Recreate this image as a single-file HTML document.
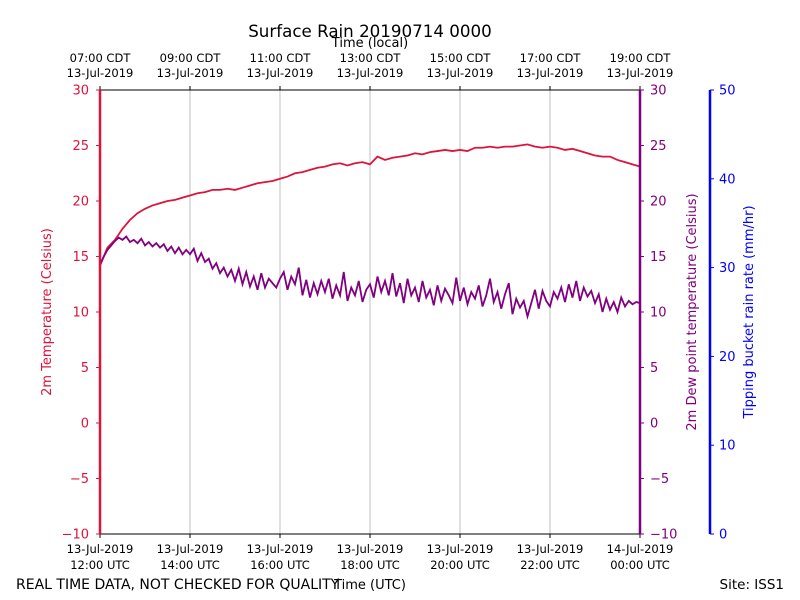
<!DOCTYPE html>
<html><head><meta charset="utf-8"><style>
body{margin:0;background:#fff;}
svg{display:block;font-family:"DejaVu Sans","Liberation Sans",sans-serif;}
</style></head><body>
<svg id="chart" width="800" height="600">
<text x="370" y="37" font-size="16.7" text-anchor="middle">Surface Rain 20190714 0000</text>
<text x="370" y="47" font-size="13" text-anchor="middle">Time (local)</text>
<text x="370" y="589" font-size="13" text-anchor="middle">Time (UTC)</text>
<text x="16" y="589" font-size="14">REAL TIME DATA, NOT CHECKED FOR QUALITY</text>
<text x="784" y="589" font-size="13.5" text-anchor="end">Site: ISS1</text>
<text transform="translate(51,312) rotate(-90)" font-size="13" fill="#dc143c" text-anchor="middle">2m Temperature (Celsius)</text>
<text transform="translate(696,312) rotate(-90)" font-size="13" fill="#800080" text-anchor="middle">2m Dew point temperature (Celsius)</text>
<text transform="translate(753,312) rotate(-90)" font-size="13" fill="#0000ff" text-anchor="middle">Tipping bucket rain rate (mm/hr)</text>
<g id="grid"></g><g id="series"></g><g id="axes"></g>
</svg>
<script>
const xTickHoursUTC=[12,14,16,18,20,22,24];
const xTickUTCLabels=["13-Jul-2019|12:00 UTC","13-Jul-2019|14:00 UTC","13-Jul-2019|16:00 UTC","13-Jul-2019|18:00 UTC","13-Jul-2019|20:00 UTC","13-Jul-2019|22:00 UTC","14-Jul-2019|00:00 UTC"];
const xTickLocalLabels=["07:00 CDT|13-Jul-2019","09:00 CDT|13-Jul-2019","11:00 CDT|13-Jul-2019","13:00 CDT|13-Jul-2019","15:00 CDT|13-Jul-2019","17:00 CDT|13-Jul-2019","19:00 CDT|13-Jul-2019"];
const tempTicks=[-10,-5,0,5,10,15,20,25,30];
const rainTicks=[0,10,20,30,40,50];
const tempStepMin=10;
const temperature=[14.2,15.8,16.5,17.5,18.3,18.9,19.3,19.6,19.8,20.0,20.1,20.3,20.5,20.7,20.8,21.0,21.0,21.1,21.0,21.2,21.4,21.6,21.7,21.8,22.0,22.2,22.5,22.6,22.8,23.0,23.1,23.3,23.4,23.2,23.4,23.5,23.3,24.0,23.7,23.9,24.0,24.1,24.3,24.2,24.4,24.5,24.6,24.5,24.6,24.5,24.8,24.8,24.9,24.8,24.9,24.9,25.0,25.1,24.9,24.8,24.9,24.8,24.6,24.7,24.5,24.3,24.1,24.0,24.0,23.7,23.5,23.3,23.1];
const dewStepMin=5;
const dewpoint=[14.2,15.0,15.6,16.0,16.4,16.7,16.5,16.8,16.3,16.5,16.2,16.6,
16.0,16.3,15.9,16.2,15.8,16.1,15.5,15.9,15.3,15.8,15.2,15.6,
15.2,15.7,14.6,15.3,14.5,14.8,13.9,14.4,13.5,14.0,13.2,13.8,
12.8,13.9,12.5,13.6,12.3,13.2,12.0,13.5,12.2,13.0,12.6,12.2,
13.0,13.6,12.0,13.2,12.5,14.0,11.5,12.9,11.3,12.6,11.6,12.8,
11.8,13.0,11.2,12.4,11.5,13.6,11.0,12.2,11.5,12.8,10.9,12.0,
12.5,11.3,13.2,11.8,12.8,11.5,13.5,11.4,12.6,10.8,13.0,11.5,
12.2,10.9,12.8,11.3,12.0,10.6,12.4,11.0,12.1,11.5,10.8,13.1,
11.0,12.2,10.7,11.8,11.2,12.4,10.5,11.5,13.0,10.9,11.8,10.3,
11.6,12.6,9.8,11.2,10.4,11.0,9.6,10.8,12.0,10.3,11.9,11.0,
10.5,11.8,11.2,12.2,10.9,12.5,11.3,12.8,11.0,12.2,11.4,11.9,
10.8,11.6,10.0,11.2,10.2,10.9,10.0,11.3,10.5,11.0,10.7,10.9,10.8];

const X0=100,X1=640,Y0=90,Y1=534;
const xH=h=>X0+(h-12)/12*(X1-X0);
const yT=v=>Y1-(v+10)/40*(Y1-Y0);
const yR=v=>Y1-v/50*(Y1-Y0);
const NS="http://www.w3.org/2000/svg";
function mk(tag,attrs,parent,txt){const e=document.createElementNS(NS,tag);for(const k in attrs)e.setAttribute(k,attrs[k]);if(txt!=null)e.textContent=txt;document.getElementById(parent).appendChild(e);return e;}

xTickHoursUTC.forEach((h,i)=>{
  const x=xH(h);
  if(i>0&&i<xTickHoursUTC.length-1){const g=mk('line',{x1:x,x2:x,y1:Y0,y2:Y1,stroke:'#b0b0b0','stroke-width':0.8},'grid');
  
  }
  const t=mk('line',{x1:x,x2:x,y1:Y1,y2:Y1+4,stroke:'#000'},'axes');
  
  
  const t2=mk('line',{x1:x,x2:x,y1:Y0,y2:Y0-4,stroke:'#000'},'axes');
  
  
  const [a,b]=xTickUTCLabels[i].split('|');
  const l1=mk('text',{x:x,y:553,'font-size':11.5,'text-anchor':'middle'},'axes',a);
  
  
  const l2=mk('text',{x:x,y:569,'font-size':11.5,'text-anchor':'middle'},'axes',b);
  
  
  const [c,d]=xTickLocalLabels[i].split('|');
  const l3=mk('text',{x:x,y:62,'font-size':11.5,'text-anchor':'middle'},'axes',c);
  
  
  const l4=mk('text',{x:x,y:77,'font-size':11.5,'text-anchor':'middle'},'axes',d);
  
  
});
tempTicks.forEach(v=>{
  const y=yT(v);const lab=v<0?'\u2212'+Math.abs(v):String(v);
  const a=mk('line',{x1:X0,x2:X0-4,y1:y,y2:y,stroke:'#dc143c'},'axes');
  
  
  const b=mk('text',{x:89,y:y+4.5,'font-size':13,fill:'#dc143c','text-anchor':'end'},'axes',lab);
  
  
  const c=mk('line',{x1:X1,x2:X1+4,y1:y,y2:y,stroke:'#800080'},'axes');
  
  
  const d=mk('text',{x:650,y:y+4.5,'font-size':13,fill:'#800080'},'axes',lab);
  
  
});
rainTicks.forEach(v=>{
  const y=yR(v);
  const a=mk('line',{x1:710,x2:714,y1:y,y2:y,stroke:'#0000ff'},'axes');
  
  
  const b=mk('text',{x:719,y:y+4.5,'font-size':13,fill:'#0000ff'},'axes',String(v));
  
  
});
const sp=[[X0,Y0,X1,Y0,'#000',1,'top-spine'],[X0,Y1,X1,Y1,'#000',1,'bottom-spine'],[X0,Y0,X0,Y1,'#dc143c',2.5,'temperature-spine'],[X1,Y0,X1,Y1,'#800080',2.5,'dewpoint-spine'],[710,Y0,710,Y1,'#0000ff',2.5,'rain-rate-spine']];
sp.forEach(s=>{const e=mk('line',{x1:s[0],y1:s[1],x2:s[2],y2:s[3],stroke:s[4],'stroke-width':s[5]},'axes');
  
  });
const tp=mk('polyline',{points:temperature.map((v,i)=>xH(12+i*tempStepMin/60)+','+yT(v)).join(' '),fill:'none',stroke:'#dc143c','stroke-width':1.8},'series');


const dp=mk('polyline',{points:dewpoint.map((v,i)=>xH(12+i*dewStepMin/60)+','+yT(v)).join(' '),fill:'none',stroke:'#800080','stroke-width':1.8},'series');


</script>
</body></html>
